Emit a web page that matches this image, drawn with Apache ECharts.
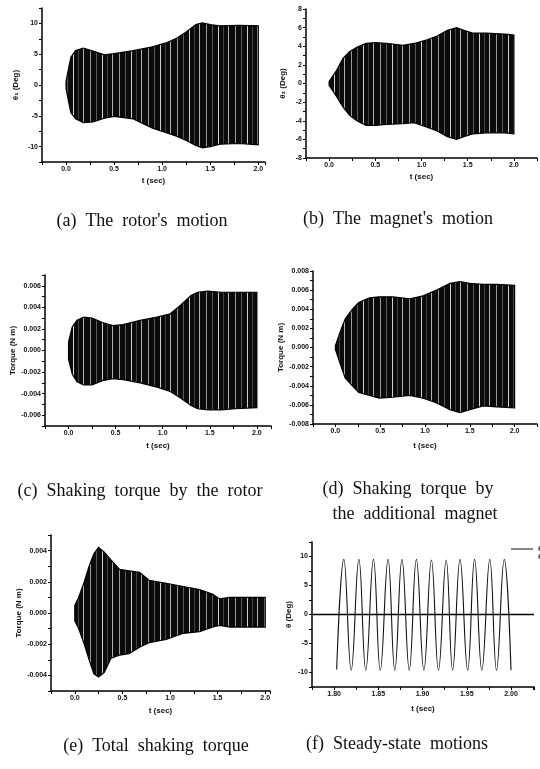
<!DOCTYPE html>
<html>
<head>
<meta charset="utf-8">
<script src="https://cdn.jsdelivr.net/npm/echarts@6/dist/echarts.min.js"></script>
<style>
  html, body { margin: 0; padding: 0; background: #fff; }
  #chart { width: 540px; height: 769px; }
</style>
</head>
<body>
<div id="chart"></div>
<script>
// envelopes of the dense oscillations (t in sec)

// (a) rotor angle, deg
const tA      = [0, 0.05, 0.1, 0.18, 0.28, 0.4, 0.5, 0.7, 0.9, 1.05, 1.15, 1.25, 1.35, 1.42, 1.5, 1.6, 1.8, 2.0];
const rotorUp = [0.6, 4.5, 5.6, 6.0, 5.5, 4.9, 5.1, 5.6, 6.2, 6.9, 7.6, 8.6, 9.8, 10.1, 9.8, 9.6, 9.7, 9.6];
const rotorLo = [-0.6, -4.5, -5.5, -6.1, -6.0, -5.4, -5.1, -5.5, -7.0, -7.8, -8.3, -9.0, -9.8, -10.2, -10.0, -9.6, -9.5, -9.7];

// (b) magnet angle, deg
const tB       = [0, 0.08, 0.15, 0.22, 0.3, 0.4, 0.5, 0.62, 0.8, 0.92, 1.06, 1.17, 1.28, 1.38, 1.46, 1.56, 1.7, 1.9, 2.0];
const magnetUp = [0.2, 1.4, 2.7, 3.4, 3.9, 4.3, 4.4, 4.3, 4.1, 4.3, 4.7, 5.1, 5.7, 6.0, 5.7, 5.4, 5.4, 5.3, 5.2];
const magnetLo = [-0.2, -1.4, -2.5, -3.4, -4.0, -4.5, -4.5, -4.4, -4.3, -4.2, -4.7, -5.1, -5.7, -6.0, -5.7, -5.4, -5.3, -5.3, -5.4];

// (c) shaking torque by the rotor, N m
const tC        = [0, 0.04, 0.09, 0.16, 0.25, 0.36, 0.47, 0.58, 0.76, 0.94, 1.08, 1.19, 1.3, 1.37, 1.48, 1.62, 1.77, 2.0];
const rotorTqUp = [0.0008, 0.0022, 0.0028, 0.0031, 0.003, 0.0026, 0.0023, 0.0024, 0.0028, 0.0031, 0.0034, 0.0042, 0.0051, 0.0054, 0.0055, 0.0054, 0.0054, 0.0054];
const rotorTqLo = [-0.0008, -0.0022, -0.0029, -0.0032, -0.0032, -0.0028, -0.0026, -0.0027, -0.003, -0.0034, -0.0038, -0.0044, -0.0051, -0.0054, -0.0055, -0.0055, -0.0054, -0.0053];

// (d) shaking torque by the additional magnet, N m
const tD         = [0, 0.06, 0.11, 0.19, 0.26, 0.38, 0.49, 0.64, 0.83, 0.98, 1.13, 1.28, 1.39, 1.5, 1.65, 1.8, 2.0];
const magnetTqUp = [0.0002, 0.0018, 0.003, 0.004, 0.0047, 0.0052, 0.0053, 0.0053, 0.0051, 0.0054, 0.006, 0.0067, 0.0069, 0.0067, 0.0066, 0.0066, 0.0065];
const magnetTqLo = [-0.0002, -0.0019, -0.0032, -0.004, -0.0047, -0.005, -0.0053, -0.0052, -0.005, -0.0053, -0.0058, -0.0065, -0.0068, -0.0065, -0.0061, -0.0062, -0.0063];

// (e) total shaking torque, N m
const tE        = [0, 0.04, 0.1, 0.15, 0.2, 0.25, 0.31, 0.38, 0.47, 0.57, 0.68, 0.78, 0.96, 1.14, 1.31, 1.45, 1.52, 1.63, 1.74, 2.0];
const totalTqUp = [0.0005, 0.001, 0.002, 0.003, 0.0038, 0.0042, 0.0039, 0.0034, 0.0028, 0.0027, 0.0026, 0.0021, 0.0019, 0.0017, 0.0015, 0.0012, 0.0009, 0.001, 0.001, 0.001];
const totalTqLo = [-0.0005, -0.001, -0.002, -0.003, -0.0039, -0.0041, -0.0038, -0.0029, -0.0027, -0.0026, -0.0022, -0.0019, -0.0017, -0.0013, -0.0012, -0.0009, -0.0008, -0.0009, -0.0009, -0.0009];

// (f) steady state, peaks and troughs of the rotor angle, deg
const steadyT     = [1.8029, 1.811, 1.8193, 1.828, 1.8358, 1.8445, 1.8522, 1.861, 1.8686, 1.8767, 1.885, 1.893, 1.9015,
                     1.910, 1.918, 1.9267, 1.934, 1.9423, 1.951, 1.9588, 1.967, 1.976, 1.9836, 1.9923, 2.000];
const steadyTheta = [-9.5, 9.5, -9.6, 9.5, -9.6, 9.5, -9.6, 9.5, -9.6, 9.5, -9.6, 9.5, -9.6,
                     9.4, -9.6, 9.4, -9.6, 9.5, -9.6, 9.5, -9.6, 9.5, -9.6, 9.5, -9.6];

const captions = [
  ['(a)  The  rotor\'s  motion', 142, 221],
  ['(b)  The  magnet\'s  motion', 398, 219],
  ['(c)  Shaking  torque  by  the  rotor', 140, 491],
  ['(d)  Shaking  torque  by', 408, 489],
  ['the  additional  magnet', 415, 514],
  ['(e)  Total  shaking  torque', 156, 746],
  ['(f)  Steady-state  motions', 397, 744],
];

const SANS = '"Liberation Sans", "DejaVu Sans", sans-serif';

// scanned look: dark fill broken by a few pale vertical streaks
function hatchPattern() {
  const c = document.createElement('canvas');
  c.width = 29; c.height = 6;
  const g = c.getContext('2d');
  g.fillStyle = '#0b0b0b'; g.fillRect(0, 0, 29, 6);
  g.fillStyle = '#9a9a9a'; g.fillRect(3, 0, 1, 6);
  g.fillStyle = '#5a5a5a'; g.fillRect(9, 0, 1, 6);
  g.fillStyle = '#d0d0d0'; g.fillRect(15, 0, 1, 6);
  g.fillStyle = '#444';    g.fillRect(20, 0, 1, 6);
  g.fillStyle = '#b0b0b0'; g.fillRect(25, 0, 1, 6);
  return { image: c, repeat: 'repeat' };
}
const HATCH = hatchPattern();

function isStep(v, step) {
  return Math.abs(v / step - Math.round(v / step)) < 1e-6;
}

function fmt(step, digits) {
  return (v) => {
    if (!isStep(v, step)) return '';
    if (Math.abs(v) < 1e-12) v = 0;
    return v.toFixed(digits);
  };
}

const grids = [
  { left: 42,  top: 8,   width: 223, height: 154 },
  { left: 306, top: 9,   width: 231, height: 149 },
  { left: 45,  top: 275, width: 226, height: 151 },
  { left: 313, top: 271, width: 224, height: 153 },
  { left: 51,  top: 535, width: 219, height: 156 },
  { left: 312, top: 542, width: 222, height: 145 },
].map(g => Object.assign({ outerBoundsMode: 'none', containLabel: false }, g));

function axisBase(idx) {
  return {
    type: 'value',
    gridIndex: idx,
    z: 5,
    axisLine: { onZero: false, lineStyle: { color: '#000', width: 1.5 } },
    axisTick: { length: 3, lineStyle: { color: '#000', width: 1 } },
    splitLine: { show: false },
    nameLocation: 'middle',
    nameTextStyle: { fontFamily: SANS, fontSize: 8, fontWeight: 'bold', color: '#111' },
  };
}

function xAxis(idx, min, max, step, every, digits, gap) {
  return Object.assign(axisBase(idx), {
    min, max, interval: step,
    name: 't (sec)', nameGap: gap,
    axisLabel: { fontFamily: SANS, fontSize: 7, fontWeight: 'bold', color: '#111', margin: 4,
                 formatter: fmt(every, digits) },
  });
}

function yAxis(idx, lim, step, every, digits, name, gap) {
  return Object.assign(axisBase(idx), {
    min: -lim, max: lim, interval: step,
    name, nameGap: gap,
    axisLabel: { fontFamily: SANS, fontSize: 7, fontWeight: 'bold', color: '#111', margin: 4,
                 formatter: fmt(every, digits) },
  });
}

const xAxes = [
  xAxis(0, -0.25, 2.07, 0.25, 0.5, 1, 15),
  xAxis(1, -0.25, 2.25, 0.25, 0.5, 1, 15),
  xAxis(2, -0.25, 2.15, 0.25, 0.5, 1, 16),
  xAxis(3, -0.25, 2.25, 0.25, 0.5, 1, 18),
  xAxis(4, -0.25, 2.05, 0.25, 0.5, 1, 16),
  xAxis(5, 1.775, 2.026, 0.025, 0.05, 2, 18),
];

const yAxes = [
  yAxis(0, 12.5, 2.5, 5, 0, 'θ₁ (Deg)', 22),
  yAxis(1, 8, 1, 2, 0, 'θ₂ (Deg)', 19),
  yAxis(2, 0.007, 0.001, 0.002, 3, 'Torque (N m)', 28),
  yAxis(3, 0.008, 0.001, 0.002, 3, 'Torque (N m)', 28),
  yAxis(4, 0.005, 0.001, 0.002, 3, 'Torque (N m)', 28),
  yAxis(5, 12.5, 2.5, 5, 0, 'θ (Deg)', 19),
];

// one closed polygon per panel: upper envelope out, lower envelope back
function envelope(idx, t, up, lo) {
  return {
    type: 'custom',
    xAxisIndex: idx,
    yAxisIndex: idx,
    silent: true,
    data: t.map((x, i) => [x, up[i], lo[i]]),
    encode: { x: 0, y: [1, 2] },
    renderItem(params, api) {
      if (params.dataIndex !== 0) return null;
      const top = t.map((x, i) => api.coord([x, up[i]]));
      const bottom = t.map((x, i) => api.coord([x, lo[i]])).reverse();
      return {
        type: 'polygon',
        shape: { points: top.concat(bottom) },
        style: { fill: HATCH, stroke: '#000', lineWidth: 1.2 },
      };
    },
  };
}

const series = [
  envelope(0, tA, rotorUp, rotorLo),
  envelope(1, tB, magnetUp, magnetLo),
  envelope(2, tC, rotorTqUp, rotorTqLo),
  envelope(3, tD, magnetTqUp, magnetTqLo),
  envelope(4, tE, totalTqUp, totalTqLo),
  {
    name: 'θ₁',
    type: 'line',
    xAxisIndex: 5,
    yAxisIndex: 5,
    data: steadyT.map((x, i) => [x, steadyTheta[i]]),
    smooth: 0.45,
    symbol: 'none',
    itemStyle: { color: '#111' },
    lineStyle: { color: '#111', width: 1.1 },
    markLine: {
      silent: true,
      symbol: 'none',
      label: { show: false },
      lineStyle: { color: '#000', width: 1.3, type: 'solid' },
      data: [{ yAxis: 0 }],
    },
  },
  {
    name: 'θ₂',
    type: 'line',
    xAxisIndex: 5,
    yAxisIndex: 5,
    data: [],
    symbol: 'none',
    itemStyle: { color: '#777' },
    lineStyle: { color: '#777', width: 1, type: 'dotted' },
  },
];

const chart = echarts.init(document.getElementById('chart'), null, { renderer: 'canvas' });
chart.setOption({
  backgroundColor: '#fff',
  animation: false,
  grid: grids,
  xAxis: xAxes,
  yAxis: yAxes,
  legend: {
    orient: 'vertical',
    left: 511,
    top: 545,
    padding: 0,
    itemWidth: 22,
    itemHeight: 8,
    itemGap: 0,
    selectedMode: false,
    textStyle: { fontFamily: SANS, fontSize: 8, fontWeight: 'bold', color: '#111' },
    data: [
      { name: 'θ₁', icon: 'path://M0,3.5 L22,3.5 L22,4.5 L0,4.5 Z', itemStyle: { color: '#111' } },
      { name: 'θ₂', icon: 'none' },
    ],
  },
  graphic: captions.map(([text, x, y]) => ({
    type: 'text',
    silent: true,
    style: {
      text, x, y,
      font: '18px "Liberation Serif", "DejaVu Serif", serif',
      fill: '#111',
      textAlign: 'center',
      textVerticalAlign: 'middle',
    },
  })),
  series,
});
</script>
</body>
</html>
